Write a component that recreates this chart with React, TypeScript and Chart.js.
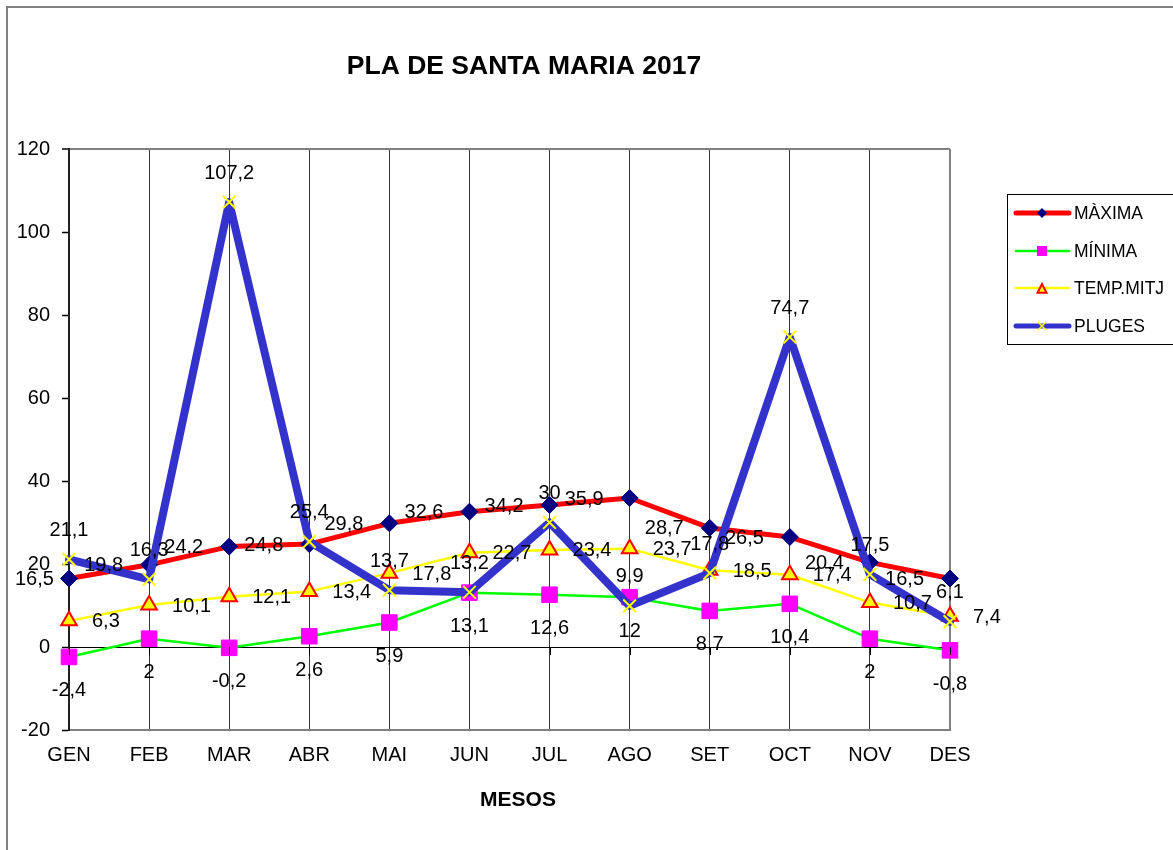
import React, { useEffect, useRef } from 'react';
import { Chart, registerables } from 'chart.js';

Chart.register(...registerables);

const months = ['GEN', 'FEB', 'MAR', 'ABR', 'MAI', 'JUN', 'JUL', 'AGO', 'SET', 'OCT', 'NOV', 'DES'];
const maxima = [16.5, 19.8, 24.2, 24.8, 29.8, 32.6, 34.2, 35.9, 28.7, 26.5, 20.4, 16.5];
const minima = [-2.4, 2, -0.2, 2.6, 5.9, 13.1, 12.6, 12, 8.7, 10.4, 2, -0.8];
const tempMitj = [6.3, 10.1, 12.1, 13.4, 17.8, 22.7, 23.4, 23.7, 18.5, 17.4, 10.7, 7.4];
const pluges = [21.1, 16.3, 107.2, 25.4, 13.7, 13.2, 30, 9.9, 17.8, 74.7, 17.5, 6.1];
const yTicks = [-20, 0, 20, 40, 60, 80, 100, 120];
const seriesNames = ['MÀXIMA', 'MÍNIMA', 'TEMP.MITJ', 'PLUGES'];
const chartTitle = 'PLA DE SANTA MARIA 2017';
const xTitle = 'MESOS';

const FONT = '"Liberation Sans", Arial, Helvetica, sans-serif';

type Marker = 'diamond' | 'square' | 'triangle' | 'x';

function drawMarker(ctx: CanvasRenderingContext2D, kind: Marker, x: number, y: number, r: number, fill: string, stroke: string, lw: number) {
  ctx.save();
  ctx.beginPath();
  if (kind === 'diamond') {
    ctx.moveTo(x, y - r);
    ctx.lineTo(x + r, y);
    ctx.lineTo(x, y + r);
    ctx.lineTo(x - r, y);
    ctx.closePath();
    ctx.fillStyle = fill;
    ctx.fill();
  } else if (kind === 'square') {
    ctx.rect(x - r, y - r, 2 * r, 2 * r);
    ctx.fillStyle = fill;
    ctx.fill();
  } else if (kind === 'triangle') {
    ctx.moveTo(x, y - r);
    ctx.lineTo(x + r * 0.9, y + r * 0.75);
    ctx.lineTo(x - r * 0.9, y + r * 0.75);
    ctx.closePath();
    ctx.fillStyle = fill;
    ctx.fill();
    ctx.strokeStyle = stroke;
    ctx.lineWidth = lw;
    ctx.stroke();
  } else {
    ctx.moveTo(x - r, y - r);
    ctx.lineTo(x + r, y + r);
    ctx.moveTo(x + r, y - r);
    ctx.lineTo(x - r, y + r);
    ctx.strokeStyle = stroke;
    ctx.lineWidth = lw;
    ctx.stroke();
  }
  ctx.restore();
}

const labelPlacement = ['left', 'below', 'right', 'above'];

const decorPlugin = {
  id: 'decor',
  beforeDraw(chart: any) {
    const ctx = chart.ctx as CanvasRenderingContext2D;
    ctx.save();
    ctx.fillStyle = '#ffffff';
    ctx.fillRect(0, 0, chart.width, chart.height);
    ctx.restore();
  },
  afterDatasetsDraw(chart: any) {
    const ctx = chart.ctx as CanvasRenderingContext2D;
    const xs = chart.scales.x;
    const ys = chart.scales.y;
    // small tick marks on the zero line
    ctx.save();
    ctx.strokeStyle = '#000';
    ctx.lineWidth = 1;
    const y0 = ys.getPixelForValue(0);
    months.forEach((_, i) => {
      const px = Math.round(xs.getPixelForValue(i)) + 0.5;
      ctx.beginPath();
      ctx.moveTo(px, y0);
      ctx.lineTo(px, y0 + 8);
      ctx.stroke();
    });
    ctx.restore();

    // data labels
    ctx.save();
    ctx.font = `20px ${FONT}`;
    ctx.fillStyle = '#000';
    chart.data.datasets.forEach((ds: any, di: number) => {
      const meta = chart.getDatasetMeta(di);
      const place = labelPlacement[di];
      meta.data.forEach((pt: any, j: number) => {
        const v = ds.data[j];
        const txt = String(v).replace('.', ',');
        const x = pt.x;
        const y = pt.y;
        ctx.textBaseline = 'middle';
        if (place === 'left') {
          const w = ctx.measureText(txt).width;
          let right = x - 26;
          if (right - w < 15) right = 15 + w;
          ctx.textAlign = 'right';
          ctx.fillText(txt, right, y + 1);
        } else if (place === 'right') {
          ctx.textAlign = 'left';
          ctx.fillText(txt, x + 23, y + 1);
        } else if (place === 'below') {
          ctx.textAlign = 'center';
          ctx.fillText(txt, x, y + 34);
        } else {
          ctx.textAlign = 'center';
          ctx.fillText(txt, x, y - 29);
        }
      });
    });
    ctx.restore();
  },
  afterDraw(chart: any) {
    const ctx = chart.ctx as CanvasRenderingContext2D;
    ctx.save();
    // outer border
    ctx.strokeStyle = '#808080';
    ctx.lineWidth = 2;
    ctx.strokeRect(7, 7, 1300, 1000);
    // title
    ctx.fillStyle = '#000';
    ctx.textAlign = 'center';
    ctx.textBaseline = 'middle';
    ctx.font = `bold 26.5px ${FONT}`;
    ctx.fillText(chartTitle, 524, 67);
    ctx.font = `bold 21px ${FONT}`;
    ctx.fillText(xTitle, 518, 800);

    // legend
    ctx.strokeStyle = '#000';
    ctx.lineWidth = 1;
    ctx.strokeRect(1007.5, 194.5, 200, 150);
    const rows = [213, 251, 288, 326];
    const legendLine = [
      { color: '#FF0000', w: 5 },
      { color: '#00FF00', w: 2.5 },
      { color: '#FFFF00', w: 2.5 },
      { color: '#3333CC', w: 5 },
    ];
    rows.forEach((ry, i) => {
      ctx.save();
      ctx.strokeStyle = legendLine[i].color;
      ctx.lineWidth = legendLine[i].w;
      ctx.lineCap = 'round';
      ctx.beginPath();
      ctx.moveTo(1016, ry);
      ctx.lineTo(1069, ry);
      ctx.stroke();
      ctx.restore();
      if (i === 0) drawMarker(ctx, 'diamond', 1042, ry, 5, '#000080', '#000080', 1);
      if (i === 1) drawMarker(ctx, 'square', 1042, ry, 5, '#FF00FF', '#FF00FF', 1);
      if (i === 2) drawMarker(ctx, 'triangle', 1042, ry + 1, 5, '#FFFF00', '#FF0000', 2);
      if (i === 3) drawMarker(ctx, 'x', 1042, ry, 4, '', '#FFFF00', 1.5);
      ctx.fillStyle = '#000';
      ctx.textAlign = 'left';
      ctx.textBaseline = 'middle';
      ctx.font = `17.5px ${FONT}`;
      ctx.fillText(seriesNames[i], 1074, ry + 1);
    });
    ctx.restore();
  },
};

export default function App() {
  const ref = useRef<HTMLCanvasElement | null>(null);

  useEffect(() => {
    if (!ref.current) return;
    const chart = new Chart(ref.current, {
      type: 'line',
      data: {
        labels: months,
        datasets: [
          {
            label: seriesNames[0],
            data: maxima,
            borderColor: '#FF0000',
            borderWidth: 5,
            borderJoinStyle: 'round',
            borderCapStyle: 'round',
            pointStyle: 'rectRot',
            pointRadius: 8.5,
            pointBackgroundColor: '#000080',
            pointBorderColor: '#000080',
            pointBorderWidth: 1,
            tension: 0,
            clip: false as any,
            order: 3,
          },
          {
            label: seriesNames[1],
            data: minima,
            borderColor: '#00FF00',
            borderWidth: 2.5,
            borderJoinStyle: 'round',
            pointStyle: 'rect',
            pointRadius: 11,
            pointBackgroundColor: '#FF00FF',
            pointBorderColor: '#FF00FF',
            pointBorderWidth: 1,
            tension: 0,
            clip: false as any,
            order: 2,
          },
          {
            label: seriesNames[2],
            data: tempMitj,
            borderColor: '#FFFF00',
            borderWidth: 2.5,
            borderJoinStyle: 'round',
            pointStyle: 'triangle',
            pointRadius: 9,
            pointBackgroundColor: '#FFFF00',
            pointBorderColor: '#FF0000',
            pointBorderWidth: 2,
            tension: 0,
            clip: false as any,
            order: 1,
          },
          {
            label: seriesNames[3],
            data: pluges,
            borderColor: '#3333CC',
            borderWidth: 8,
            borderJoinStyle: 'round',
            borderCapStyle: 'round',
            pointStyle: 'crossRot',
            pointRadius: 9,
            pointBackgroundColor: '#FFFF00',
            pointBorderColor: '#FFFF00',
            pointBorderWidth: 2,
            tension: 0,
            clip: false as any,
            order: 0,
          },
        ],
      },
      options: {
        animation: false,
        responsive: true,
        maintainAspectRatio: false,
        devicePixelRatio: 1,
        layout: { padding: { left: 0, top: 149, right: 223, bottom: 0 } },
        plugins: {
          legend: { display: false },
          title: { display: false },
          tooltip: { enabled: false },
        },
        scales: {
          x: {
            type: 'category',
            offset: false,
            grid: {
              color: (c: any) => (c.index === months.length - 1 ? '#808080' : '#333333'),
              lineWidth: (c: any) => (c.index === months.length - 1 ? 2 : 1),
              drawTicks: false,
            },
            border: { color: '#808080', width: 2 },
            ticks: {
              color: '#000',
              font: { family: FONT, size: 20 },
              padding: 13,
              maxRotation: 0,
              autoSkip: false,
            },
            afterFit: (s: any) => {
              s.height = 120;
            },
          },
          y: {
            min: -20,
            max: 120,
            afterBuildTicks: (s: any) => {
              s.ticks = yTicks.map((v) => ({ value: v }));
            },
            grid: {
              color: (c: any) => {
                const v = c.tick ? c.tick.value : null;
                if (v === 0) return '#000000';
                if (v === 120 || v === -20) return '#808080';
                return 'rgba(0,0,0,0)';
              },
              lineWidth: (c: any) => (c.tick && c.tick.value === 120 ? 2 : 1),
              tickColor: '#000000',
              tickLength: 7,
              tickWidth: 1.5,
            },
            border: { color: '#222222', width: 2 },
            ticks: {
              color: '#000',
              font: { family: FONT, size: 20 },
              padding: 12,
            },
            afterFit: (s: any) => {
              s.width = 69;
            },
          },
        },
      },
      plugins: [decorPlugin],
    });
    return () => chart.destroy();
  }, []);

  return (
    <div style={{ position: 'absolute', left: 0, top: 0, width: 1173, height: 850, background: '#fff' }}>
      <canvas ref={ref} />
    </div>
  );
}
